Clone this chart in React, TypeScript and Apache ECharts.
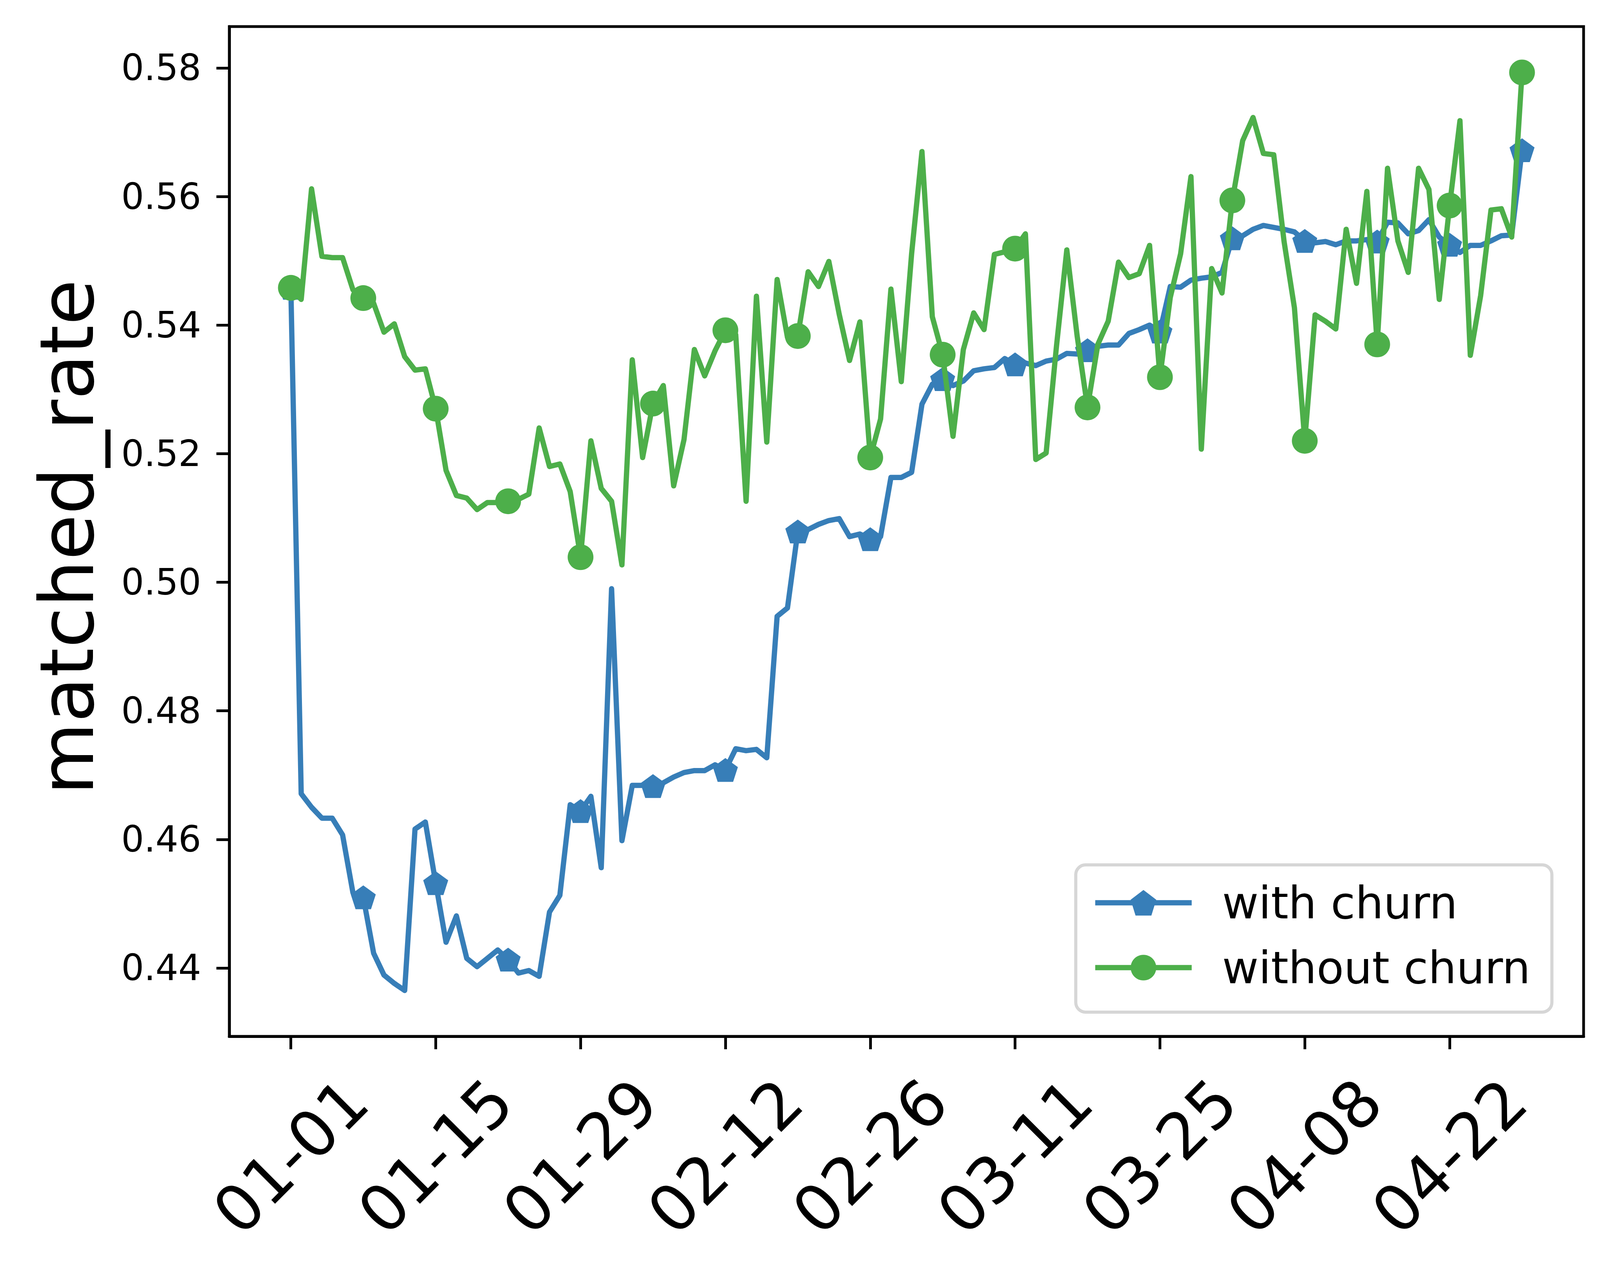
import React, { useEffect, useRef } from "react";
import * as echarts from "echarts";

const WIDTH = 4123;
const HEIGHT = 3269;
const FONT = "DejaVu Sans";

const TICK_DAYS = [0, 14, 28, 42, 56, 70, 84, 98, 112];
const TICK_LABELS = ["01-01", "01-15", "01-29", "02-12", "02-26", "03-11", "03-25", "04-08", "04-22"];
const Y_TICKS = [0.44, 0.46, 0.48, 0.5, 0.52, 0.54, 0.56, 0.58];
const MARK_EVERY = 7;

const WITH_CHURN = [
  0.5458, 0.4671, 0.465, 0.4633, 0.4633, 0.4607, 0.4517, 0.451, 0.4423, 0.4389,
  0.4376, 0.4365, 0.4616, 0.4627, 0.4532, 0.444, 0.4481, 0.4415, 0.4402, 0.4415,
  0.4428, 0.4413, 0.4392, 0.4396, 0.4387, 0.4487, 0.4513, 0.4654, 0.4644, 0.4667,
  0.4556, 0.499, 0.4598, 0.4684, 0.4684, 0.4683, 0.4688, 0.4697, 0.4704, 0.4707,
  0.4707, 0.4716, 0.4708, 0.4741, 0.4738, 0.474, 0.4727, 0.4947, 0.496, 0.5079,
  0.5082, 0.509, 0.5096, 0.5099, 0.5071, 0.5075, 0.5067, 0.5071, 0.5163, 0.5163,
  0.5171, 0.5277, 0.5308, 0.5316, 0.5306, 0.5313, 0.5329, 0.5332, 0.5334, 0.5348,
  0.5339, 0.5341, 0.5337, 0.5344, 0.5347, 0.5356, 0.5355, 0.5361, 0.5367, 0.5369,
  0.5369, 0.5387, 0.5393, 0.54, 0.539, 0.546, 0.5459, 0.547, 0.5473, 0.5475,
  0.5482, 0.5535, 0.5539, 0.5549, 0.5555, 0.5552, 0.5549, 0.5545, 0.5531, 0.5528,
  0.553, 0.5525, 0.5531, 0.5531, 0.5533, 0.553, 0.556, 0.5559, 0.5542, 0.5547,
  0.5564, 0.5537, 0.5525, 0.5513, 0.5524, 0.5524, 0.5531, 0.5539, 0.554, 0.5672,
];

const WITHOUT_CHURN = [
  0.5458, 0.544, 0.5612, 0.5507, 0.5505, 0.5505, 0.5455, 0.5442, 0.5434, 0.5389,
  0.5402, 0.5351, 0.533, 0.5332, 0.527, 0.5174, 0.5135, 0.5131, 0.5113, 0.5124,
  0.5124, 0.5126, 0.5129, 0.5137, 0.524, 0.518, 0.5184, 0.5141, 0.5039, 0.522,
  0.5146, 0.5126, 0.5027, 0.5346, 0.5194, 0.5278, 0.5306, 0.515, 0.5222, 0.5362,
  0.5321, 0.536, 0.5392, 0.5385, 0.5126, 0.5445, 0.5218, 0.5471, 0.5381, 0.5383,
  0.5483, 0.546, 0.5499, 0.5417, 0.5345, 0.5405, 0.5194, 0.5254, 0.5456, 0.5312,
  0.5511, 0.567, 0.5413, 0.5354, 0.5227, 0.5362, 0.5419, 0.5393, 0.551, 0.5514,
  0.5519, 0.5542, 0.5191, 0.5201, 0.5367, 0.5517, 0.5383, 0.5272, 0.537, 0.5406,
  0.5498, 0.5474, 0.548, 0.5524, 0.5319, 0.5443, 0.5511, 0.5631, 0.5207, 0.5488,
  0.545, 0.5594, 0.5687, 0.5723, 0.5667, 0.5665, 0.553, 0.5427, 0.522, 0.5416,
  0.5406, 0.5394, 0.5549, 0.5465, 0.5608, 0.537, 0.5644, 0.5531, 0.5482, 0.5644,
  0.5611, 0.544, 0.5586, 0.5718, 0.5353, 0.5446, 0.5579, 0.5581, 0.5537, 0.5793,
];

const SERIES_NAMES = ["with churn", "without churn"];
const COLORS = ["#377eb8", "#4daf4a"];
const PENTAGON = "path://M0,-1 L0.951,-0.309 L0.588,0.809 L-0.588,0.809 L-0.951,-0.309 Z";

function toData(values: number[]) {
  return values.map((v, i) =>
    i % MARK_EVERY === 0 ? { value: [i, v] } : { value: [i, v], symbol: "none" }
  );
}

export default function App() {
  const ref = useRef<HTMLDivElement>(null);

  useEffect(() => {
    if (!ref.current) return;
    const chart = echarts.init(ref.current, undefined, { renderer: "svg" });

    const n = WITH_CHURN.length;
    const xRange = n - 1;
    const xMin = -0.05 * xRange;
    const xMax = xRange + 0.05 * xRange;
    const all = WITH_CHURN.concat(WITHOUT_CHURN);
    const dMin = Math.min(...all);
    const dMax = Math.max(...all);
    const yMin = dMin - 0.05 * (dMax - dMin);
    const yMax = dMax + 0.05 * (dMax - dMin);

    chart.setOption({
      animation: false,
      backgroundColor: "#ffffff",
      grid: {
        show: true,
        left: 587,
        right: 69,
        top: 68,
        bottom: 616,
        borderColor: "#000000",
        borderWidth: 7,
        backgroundColor: "transparent",
      },
      xAxis: {
        type: "value",
        min: xMin,
        max: xMax,
        splitLine: { show: false },
        axisLine: { show: true, onZero: false, lineStyle: { color: "#000", width: 7 } },
        axisTick: {
          show: true,
          customValues: TICK_DAYS,
          length: 33,
          lineStyle: { color: "#000", width: 7 },
        },
        axisLabel: {
          customValues: TICK_DAYS,
          formatter: (v: number) => {
            const k = TICK_DAYS.indexOf(Math.round(v));
            return k >= 0 ? TICK_LABELS[k] : "";
          },
          rotate: 45,
          align: "center",
          verticalAlign: "middle",
          margin: 308,
          fontSize: 164,
          fontFamily: FONT,
          color: "#000",
        },
      },
      yAxis: {
        type: "value",
        min: yMin,
        max: yMax,
        splitLine: { show: false },
        axisLine: { show: true, onZero: false, lineStyle: { color: "#000", width: 7 } },
        axisTick: {
          show: true,
          customValues: Y_TICKS,
          length: 33,
          lineStyle: { color: "#000", width: 7 },
        },
        axisLabel: {
          customValues: Y_TICKS,
          formatter: (v: number) => v.toFixed(2),
          margin: 72,
          fontSize: 92,
          fontFamily: FONT,
          color: "#000",
        },
      },
      legend: {
        orient: "vertical",
        left: 2754,
        top: 2214,
        padding: [40, 55, 57, 43],
        itemGap: 52,
        itemWidth: 247,
        itemHeight: 82,
        backgroundColor: "rgba(255,255,255,0.8)",
        borderColor: "#d6d6d6",
        borderWidth: 8,
        borderRadius: 25,
        lineStyle: { width: 13.5 },
        textStyle: {
          fontSize: 114,
          fontFamily: FONT,
          color: "#000",
          padding: [0, 0, 0, 73],
        },
        data: SERIES_NAMES,
      },
      graphic: [
        {
          type: "text",
          x: 172,
          y: 1375,
          rotation: Math.PI / 2,
          style: {
            text: "matched_rate",
            fill: "#000",
            font: `190px "${FONT}"`,
            fontSize: 190,
            fontFamily: FONT,
            align: "center",
            verticalAlign: "middle",
            textAlign: "center",
            textVerticalAlign: "middle",
          },
        },
      ],
      series: [
        {
          name: SERIES_NAMES[0],
          type: "line",
          data: toData(WITH_CHURN),
          symbol: PENTAGON,
          symbolSize: [64, 61],
          showAllSymbol: true,
          itemStyle: { color: COLORS[0] },
          lineStyle: { color: COLORS[0], width: 13.5, join: "round" },
          z: 2,
        },
        {
          name: SERIES_NAMES[1],
          type: "line",
          data: toData(WITHOUT_CHURN),
          symbol: "circle",
          symbolSize: 66,
          showAllSymbol: true,
          itemStyle: { color: COLORS[1] },
          lineStyle: { color: COLORS[1], width: 13.5, join: "round" },
          z: 3,
        },
      ],
    });

    return () => {
      chart.dispose();
    };
  }, []);

  return (
    <div
      ref={ref}
      style={{ position: "absolute", left: 0, top: 0, width: WIDTH, height: HEIGHT }}
    />
  );
}
